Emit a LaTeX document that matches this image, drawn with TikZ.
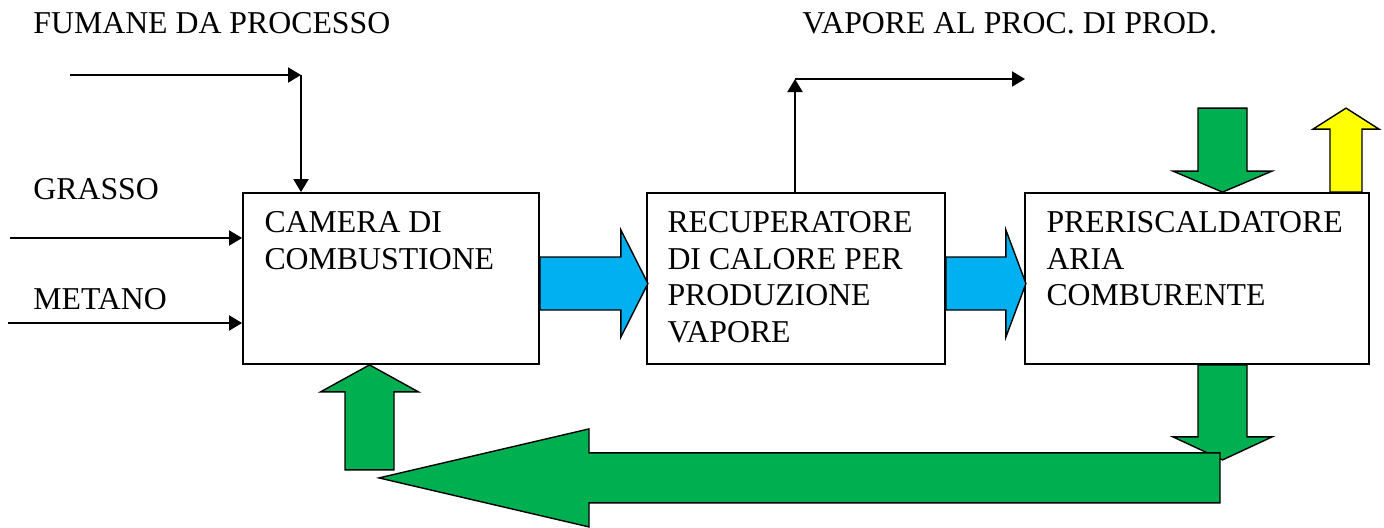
\documentclass[tikz,border=0pt]{standalone}
\usepackage{fontspec}
\setmainfont{Liberation Serif}
\usetikzlibrary{calc,arrows.meta}

\definecolor{azzurro}{HTML}{00B0F0}
\definecolor{verde}{HTML}{00B050}
\definecolor{giallo}{HTML}{FFFF00}

\tikzset{
  blocco/.style={draw, line width=0.9pt, fill=white, inner sep=0pt,
    minimum width=#1, minimum height=85.5pt},
  testo/.style={font=\fontsize{15.9}{18.25}\selectfont, inner sep=0pt, align=left},
  filo/.style={line width=1pt, -{Triangle[length=6.5pt,width=7.5pt]}},
  grossa/.style={draw, line width=0.7pt, line join=miter}
}

\begin{document}
\begin{tikzpicture}[x=0.5pt, y=-0.5pt]

  \useasboundingbox (0,0) rectangle (1384,527);

  %% fat arrow: colour, tail, angle, length, shaft half, head half, head length
  \newcommand\freccia[7]{\draw[grossa, fill=#1, shift={(#2)}, rotate=#3]
    (0,-#5) -- (#4-#7,-#5) -- (#4-#7,-#6) -- (#4,0) -- (#4-#7,#6) -- (#4-#7,#5) -- (0,#5) -- cycle;}

  % blocks
  \node[blocco=148pt] (camera) at (391,278.5) {};
  \node[blocco=149pt] (recup) at (796,278.5) {};
  \node[blocco=172pt] (prerisc) at (1197,278.5) {};

  \node[testo, anchor=north west] (t-camera) at ($(camera.north west)+(22,19)$) {CAMERA DI\\COMBUSTIONE};
  \node[testo, anchor=north west] (t-recup) at ($(recup.north west)+(21,19)$) {RECUPERATORE\\DI CALORE PER\\PRODUZIONE\\VAPORE};
  \node[testo, anchor=north west] (t-prerisc) at ($(prerisc.north west)+(22,19)$) {PRERISCALDATORE\\ARIA\\COMBURENTE};

  % labels
  \node[testo, anchor=base west] (l-fumane) at (33,33) {FUMANE DA PROCESSO};
  \node[testo, anchor=base west] (l-vapore) at (802,33) {VAPORE AL PROC. DI PROD.};
  \node[testo, anchor=base west] (l-grasso) at (33,199) {GRASSO};
  \node[testo, anchor=base west] (l-metano) at (33,309) {METANO};

  % thin lines
  \coordinate (fumane) at (70,75);
  \coordinate (gomito1) at (301,75);
  \coordinate (grasso) at (10,238);
  \coordinate (metano) at (8,323);
  \coordinate (gomito2) at (795,79);
  \coordinate (vapore) at (1025,79);

  \draw[filo] (fumane) -- (gomito1);
  \draw[filo] (gomito1) -- (gomito1 |- camera.north); %% fumane -> camera
  \draw[filo] (grasso) -- (grasso -| camera.west);
  \draw[filo] (metano) -- (metano -| camera.west);
  \draw[filo] (recup.north -| gomito2) -- (gomito2); %% recup -> vapore
  \draw[filo] (gomito2) -- (vapore);

  % fat arrows
  \freccia{azzurro}{$(camera.east)+(0,5)$}{0}{108}{26.5}{53.5}{27}
  \freccia{azzurro}{$(recup.east)+(0,5)$}{0}{80}{26.5}{53.5}{20}
  \freccia{verde}{$(prerisc.north)+(25.5,-84)$}{-90}{84}{24.5}{49.5}{21}
  \freccia{giallo}{$(prerisc.north)+(149,0)$}{90}{84}{16}{33}{21}
  \freccia{verde}{$(prerisc.south)+(25.5,0)$}{-90}{95}{24.5}{49.5}{23}
  \freccia{verde}{$(prerisc.south)+(23,113)$}{180}{841}{25}{49}{210} %% ritorno
  \freccia{verde}{$(camera.south)+(-21.5,105)$}{90}{105}{24.5}{49}{27}

\end{tikzpicture}
\end{document}
